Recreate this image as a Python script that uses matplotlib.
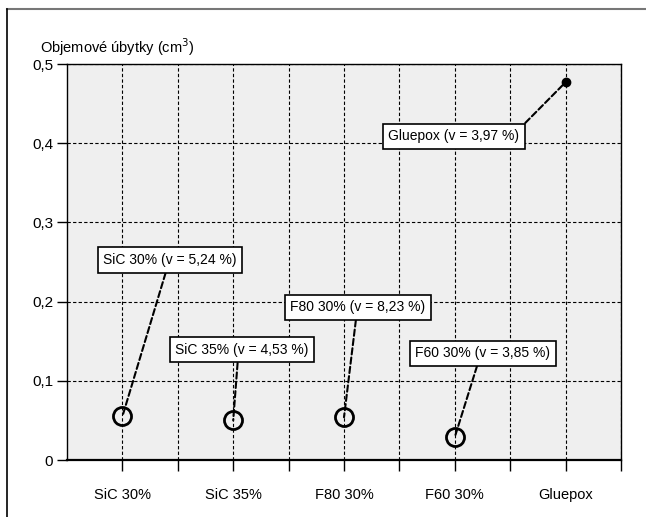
import matplotlib
matplotlib.use("Agg")
import matplotlib.pyplot as plt
from matplotlib.lines import Line2D
from matplotlib import font_manager

names = {f.name for f in font_manager.fontManager.ttflist}
FONT = "Liberation Sans Narrow" if "Liberation Sans Narrow" in names else "Liberation Sans"
plt.rcParams['font.family'] = [FONT, 'DejaVu Sans']

categories = ["SiC 30%", "SiC 35%", "F80 30%", "F60 30%", "Gluepox"]
values = [0.055, 0.050, 0.054, 0.029, 0.477]
labels = ["SiC 30% (v = 5,24 %)", "SiC 35% (v = 4,53 %)", "F80 30% (v = 8,23 %)",
          "F60 30% (v = 3,85 %)", "Gluepox (v = 3,97 %)"]
label_pos = [(0.43, 0.2525), (1.08, 0.139), (2.126, 0.193), (3.254, 0.135), (2.99, 0.409)]
label_rel = [(0.48, 0.0), (0.47, 0.0), (0.49, 0.0), (0.47, 0.0), (1.0, 1.0)]
yticks = [0, 0.1, 0.2, 0.3, 0.4, 0.5]
ytick_labels = ["0", "0,1", "0,2", "0,3", "0,4", "0,5"]

fig = plt.figure(figsize=(6.46, 5.17), dpi=100)
W, H = 646, 517
ax = fig.add_axes([67 / W, 1 - 460 / H, (621 - 67) / W, (460 - 64) / H])
ax.set_facecolor("#efefef")

ax.set_xlim(-0.5, 4.5)
ax.set_ylim(0, 0.5)
ax.set_yticks(yticks)
ax.set_yticklabels(ytick_labels, fontsize=11)
xs = list(range(len(categories)))
ax.set_xticks(xs)
ax.set_xticklabels(categories, fontsize=10.5)
ax.set_xticks([x + 0.5 for x in xs], minor=True)
ax.tick_params(axis='x', which='both', direction='out', length=8, width=1, pad=12)
ax.tick_params(axis='y', direction='out', length=7, width=1, pad=3)

ax.grid(True, which='both', axis='x', color='black', linestyle=(0, (3, 2)), linewidth=0.8)
ax.grid(True, which='major', axis='y', color='black', linestyle=(0, (3, 2)), linewidth=0.8)
ax.set_axisbelow(True)
for s in ax.spines.values():
    s.set_color('black')
    s.set_linewidth(1.0)
ax.spines['bottom'].set_linewidth(1.6)

# open circles for first four
ax.plot(xs[:4], values[:4], linestyle='none', marker='o', markersize=13,
        markerfacecolor='none', markeredgecolor='black', markeredgewidth=2.0, zorder=5)
ax.plot(xs[4:], values[4:], linestyle='none', marker='o', markersize=6,
        color='black', zorder=5)

for x, v, lab, pos, rel in zip(xs, values, labels, label_pos, label_rel):
    ax.annotate(lab, xy=(x, v), xytext=pos, textcoords='data', fontsize=10,
                ha='center', va='center',
                bbox=dict(boxstyle='square,pad=0.4', fc='white', ec='black', lw=1.2),
                arrowprops=dict(arrowstyle='-', linestyle=(0, (3, 1.5)), lw=1.5,
                                color='black', relpos=rel, shrinkA=0, shrinkB=0),
                zorder=6)

fig.text(40 / W, 1 - 47 / H, "Objemové úbytky (cm$^3$)", fontsize=10.5,
         ha='left', va='center')

fig.add_artist(Line2D([7 / W, 1], [1 - 9 / H, 1 - 9 / H], color='#777777', lw=1.5,
                      transform=fig.transFigure))
fig.add_artist(Line2D([7 / W, 7 / W], [0, 1 - 9 / H], color='black', lw=1.2,
                      transform=fig.transFigure))

fig.savefig("out.png", dpi=100)
